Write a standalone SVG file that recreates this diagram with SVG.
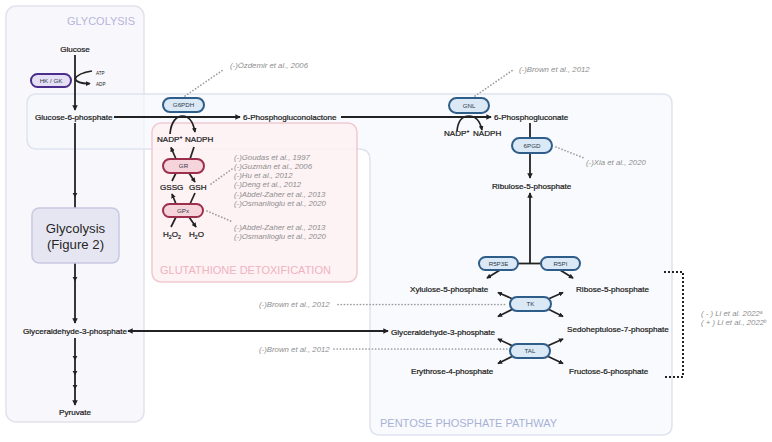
<svg xmlns="http://www.w3.org/2000/svg" width="772" height="442" viewBox="0 0 772 442">
<defs>
<style>
.t{font-family:"Liberation Sans",Arial,sans-serif;font-size:8.1px;fill:#1a1a1a;stroke:#1a1a1a;stroke-width:0.22px}
.tm{font-family:"Liberation Sans",Arial,sans-serif;font-size:8.1px;fill:#1a1a1a;stroke:#1a1a1a;stroke-width:0.22px;text-anchor:middle}
.c{font-family:"Liberation Sans",Arial,sans-serif;font-size:7.8px;font-style:italic;fill:#8e8e8e}
.pt{font-family:"Liberation Sans",Arial,sans-serif;font-size:6.2px;fill:#2e3b48;text-anchor:middle}
.ln{stroke:#222;stroke-width:1.8;fill:none}
.sm{stroke:#222;stroke-width:1.7;fill:none}
.dot{stroke:#9c9c9c;stroke-width:1.7;stroke-dasharray:0.1 3.1;stroke-linecap:round;fill:none}
.pb{fill:#dbe8f6;stroke:#2f5d8a;stroke-width:2}
.pp{fill:#f6d4db;stroke:#9b2f4c;stroke-width:2}
.pv{fill:#e6e0f6;stroke:#4b2e8c;stroke-width:2}
.lab{font-family:"Liberation Sans",Arial,sans-serif;font-size:11px}
</style>
<marker id="ah" viewBox="0 0 10 10" refX="8.5" refY="5" markerUnits="userSpaceOnUse" markerWidth="5.5" markerHeight="5.5" orient="auto-start-reverse">
<path d="M0,0 L10,5 L0,10 z" fill="#222"/>
</marker>
<marker id="as" viewBox="0 0 10 10" refX="8.5" refY="5" markerUnits="userSpaceOnUse" markerWidth="4.8" markerHeight="4.8" orient="auto-start-reverse">
<path d="M0,0 L10,5 L0,10 z" fill="#222"/>
</marker>
</defs>
<rect width="772" height="442" fill="#ffffff"/>

<g id="regions">
<g id="glycolysis-region">
<rect x="6" y="6" width="138" height="416" rx="10" fill="#f7f7fc" fill-opacity="0.85" stroke="#e2e2ed" stroke-width="1.5"/>
<text class="lab" x="135" y="25" text-anchor="end" fill="#b7b4da" font-size="10.7">GLYCOLYSIS</text>
</g>
<g id="ppp-region">
<path d="M37,94 H662 Q672,94 672,104 V425 Q672,435 662,435 H380 Q370,435 370,425 V160 Q370,149 359,149 H37 Q27,149 27,139 V104 Q27,94 37,94 Z" fill="#f7f8fc" fill-opacity="0.7" stroke="#dfe3ef" stroke-width="1.5"/>
<text class="lab" x="380" y="427" fill="#a8b2d6">PENTOSE PHOSPHATE PATHWAY</text>
</g>
<g id="glutathione-region">
<rect x="152" y="123" width="205" height="159" rx="9" fill="#fdf1f3" fill-opacity="0.9" stroke="#f0cad2" stroke-width="1.5"/>
<text class="lab" x="160" y="274" fill="#f0b3bf">GLUTATHIONE DETOXIFICATION</text>
</g>
</g>

<g id="connectors">
<path class="ln" d="M75,55 V110" marker-end="url(#ah)"/>
<path class="sm" d="M92,71 Q78,73 75,79 Q78,84 90,83.5" marker-end="url(#as)"/>
<path class="ln" d="M75,123 V208"/>
<path class="ln" d="M75,263 V323" marker-end="url(#ah)"/>
<path class="ln" d="M75,338 V405" marker-end="url(#ah)"/>
<g fill="#222">
<polygon points="72.6,193 77.4,193 75,197.5"/>
<polygon points="72.6,277 77.4,277 75,281.5"/>
<polygon points="72.6,356 77.4,356 75,360.5"/>
<polygon points="72.6,371 77.4,371 75,375.5"/>
<polygon points="72.6,385 77.4,385 75,389.5"/>
</g>
<path class="ln" d="M114,117 H240" marker-end="url(#ah)"/>
<path class="ln" d="M341,117 H491" marker-end="url(#ah)"/>
<path class="sm" d="M170,134 C171,121 177,116 182.5,116 C188,116 193,121 195,132" marker-end="url(#as)"/>
<path class="sm" d="M457,131 C458,120 463,116 469,116 C475,116 480,121 482,130" marker-end="url(#as)"/>
<path class="ln" d="M530,123 V138"/>
<path class="ln" d="M530,153 V178" marker-end="url(#ah)"/>
<path class="ln" d="M518,263.5 H541"/>
<path class="ln" d="M530,263.5 V193" marker-end="url(#ah)"/>
<path class="sm" d="M500,270 L487,278" marker-end="url(#as)"/>
<path class="sm" d="M560,270 L573,278" marker-end="url(#as)"/>
<path class="sm" d="M515,300 L498,292.5" marker-end="url(#as)"/>
<path class="sm" d="M515,308 L498,316.5" marker-end="url(#as)"/>
<path class="sm" d="M546,300 L563,292.5" marker-end="url(#as)"/>
<path class="sm" d="M546,308 L563,316.5" marker-end="url(#as)"/>
<path class="sm" d="M515,347 L498,339" marker-end="url(#as)"/>
<path class="sm" d="M515,355 L498,363.5" marker-end="url(#as)"/>
<path class="sm" d="M545,347 L563,339" marker-end="url(#as)"/>
<path class="sm" d="M545,355 L563,363.5" marker-end="url(#as)"/>
<path class="ln" d="M128,331 H388" marker-start="url(#ah)" marker-end="url(#ah)"/>
<path class="sm" d="M176,159 L171,147.5" marker-end="url(#as)"/>
<path class="sm" d="M194,147 L190,159"/>
<path class="sm" d="M172,181 L176,173"/>
<path class="sm" d="M189,173 L195,182" marker-end="url(#as)"/>
<path class="sm" d="M176,204 L172,194" marker-end="url(#as)"/>
<path class="sm" d="M195,193 L190,204"/>
<path class="sm" d="M171,227 L176,217"/>
<path class="sm" d="M189,217 L196,227" marker-end="url(#as)"/>
<path class="dot" d="M185,96 L223,70"/>
<path class="dot" d="M475,96 L513,70"/>
<path class="dot" d="M556,147 L584,158"/>
<path class="dot" d="M211,184 L232,169"/>
<path class="dot" d="M207,211 L233,222"/>
<path class="dot" d="M338,304.5 H506"/>
<path class="dot" d="M334,349 H507"/>
<path d="M664,272 H683 V377 H664" fill="none" stroke="#222" stroke-width="2" stroke-dasharray="2 2"/>
</g>

<g id="node-glucose"><text class="tm" x="75" y="52">Glucose</text></g>
<g id="node-hkgk"><rect class="pv" x="31" y="74" width="40" height="13" rx="6.5"/><text class="pt" x="51" y="82.8">HK / GK</text></g>
<g id="node-atp"><text x="96" y="74.5" font-family="Liberation Sans,Arial,sans-serif" font-size="4.6" fill="#222">ATP</text></g>
<g id="node-adp"><text x="96" y="86" font-family="Liberation Sans,Arial,sans-serif" font-size="4.6" fill="#222">ADP</text></g>
<g id="node-g6p"><text class="t" x="35" y="120">Glucose-6-phosphate</text></g>
<g id="node-glycolysis"><rect x="32" y="208" width="87" height="55" rx="7" fill="#e6e6f2" stroke="#c8c8e2" stroke-width="1.5"/>
<text x="75.5" y="233" text-anchor="middle" font-family="Liberation Sans,Arial,sans-serif" font-size="13.2" fill="#262626">Glycolysis</text>
<text x="75.5" y="249" text-anchor="middle" font-family="Liberation Sans,Arial,sans-serif" font-size="13.2" fill="#262626">(Figure 2)</text></g>
<g id="node-g3p-left"><text class="t" x="23" y="334">Glyceraldehyde-3-phosphate</text></g>
<g id="node-pyruvate"><text class="tm" x="75" y="415">Pyruvate</text></g>

<g id="node-g6pdh"><rect class="pb" x="163" y="98" width="41" height="14" rx="7"/><text class="pt" x="183.5" y="107.3">G6PDH</text></g>
<g id="node-6pgl"><text class="t" x="243" y="120">6-Phosphogluconolactone</text></g>
<g id="node-nadp1"><text class="t" x="157" y="142">NADP<tspan font-size="5" baseline-shift="super">+</tspan></text></g>
<g id="node-nadph1"><text class="t" x="185" y="142">NADPH</text></g>
<g id="node-gnl"><rect class="pb" x="449" y="98" width="40" height="15" rx="7.5"/><text class="pt" x="469" y="107.8">GNL</text></g>
<g id="node-6pg"><text class="t" x="494" y="120">6-Phosphogluconate</text></g>
<g id="node-nadp2"><text class="t" x="444" y="136">NADP<tspan font-size="5" baseline-shift="super">+</tspan></text></g>
<g id="node-nadph2"><text class="t" x="473" y="136">NADPH</text></g>
<g id="node-6pgd"><rect class="pb" x="512" y="138" width="40" height="15" rx="7.5"/><text class="pt" x="532" y="147.8">6PGD</text></g>
<g id="node-ru5p"><text class="t" x="492" y="189">Ribulose-5-phosphate</text></g>
<g id="node-r5p3e"><rect class="pb" x="479" y="257" width="39" height="13" rx="6.5"/><text class="pt" x="498.5" y="265.8">R5P3E</text></g>
<g id="node-r5pi"><rect class="pb" x="541" y="257" width="39" height="13" rx="6.5"/><text class="pt" x="560.5" y="265.8">R5PI</text></g>
<g id="node-xu5p"><text class="t" x="410" y="292">Xylulose-5-phosphate</text></g>
<g id="node-r5p"><text class="t" x="576" y="292">Ribose-5-phosphate</text></g>
<g id="node-tk"><rect class="pb" x="510" y="297" width="41" height="14" rx="7"/><text class="pt" x="530.5" y="306.3">TK</text></g>
<g id="node-g3p-right"><text class="t" x="391" y="335">Glyceraldehyde-3-phosphate</text></g>
<g id="node-s7p"><text class="t" x="567" y="332">Sedoheptulose-7-phosphate</text></g>
<g id="node-tal"><rect class="pb" x="510" y="344" width="40" height="14" rx="7"/><text class="pt" x="530" y="353.3">TAL</text></g>
<g id="node-e4p"><text class="t" x="411" y="374">Erythrose-4-phosphate</text></g>
<g id="node-f6p"><text class="t" x="569" y="374">Fructose-6-phosphate</text></g>

<g id="node-gr"><rect class="pp" x="163" y="159" width="41" height="14" rx="7"/><text class="pt" x="183.5" y="168.3">GR</text></g>
<g id="node-gssg"><text class="t" x="160" y="190">GSSG</text></g>
<g id="node-gsh"><text class="t" x="189" y="190">GSH</text></g>
<g id="node-gpx"><rect class="pp" x="163" y="204" width="40" height="13" rx="6.5"/><text class="pt" x="183" y="212.8">GPx</text></g>
<g id="node-h2o2"><text class="t" x="163" y="237">H<tspan font-size="5.2" baseline-shift="-1.5">2</tspan>O<tspan font-size="5.2" baseline-shift="-1.5">2</tspan></text></g>
<g id="node-h2o"><text class="t" x="189" y="237">H<tspan font-size="5.2" baseline-shift="-1.5">2</tspan>O</text></g>

<g id="citations">
<text class="c" x="230" y="68">(-)Özdemir et al., 2006</text>
<text class="c" x="519" y="72">(-)Brown et al., 2012</text>
<text class="c" x="586" y="165">(-)Xia et al., 2020</text>
<text class="c" x="234" y="159.5">(-)Goudas et al., 1997</text>
<text class="c" x="234" y="168.8">(-)Guzmán et al., 2006</text>
<text class="c" x="234" y="178.1">(-)Hu et al., 2012</text>
<text class="c" x="234" y="187.4">(-)Deng et al., 2012</text>
<text class="c" x="234" y="196.7">(-)Abdel-Zaher et al., 2013</text>
<text class="c" x="234" y="206">(-)Osmanlioglu et al., 2020</text>
<text class="c" x="234" y="229.5">(-)Abdel-Zaher et al., 2013</text>
<text class="c" x="234" y="238.8">(-)Osmanlioglu et al., 2020</text>
<text class="c" x="259" y="307">(-)Brown et al., 2012</text>
<text class="c" x="259" y="352">(-)Brown et al., 2012</text>
<text class="c" x="701" y="316" font-size="7.2">( - ) Li et al. 2022<tspan font-size="4.5" baseline-shift="super">a</tspan></text>
<text class="c" x="701" y="325" font-size="7.2">( + ) Li et al., 2022<tspan font-size="4.5" baseline-shift="super">b</tspan></text>
</g>
</svg>
